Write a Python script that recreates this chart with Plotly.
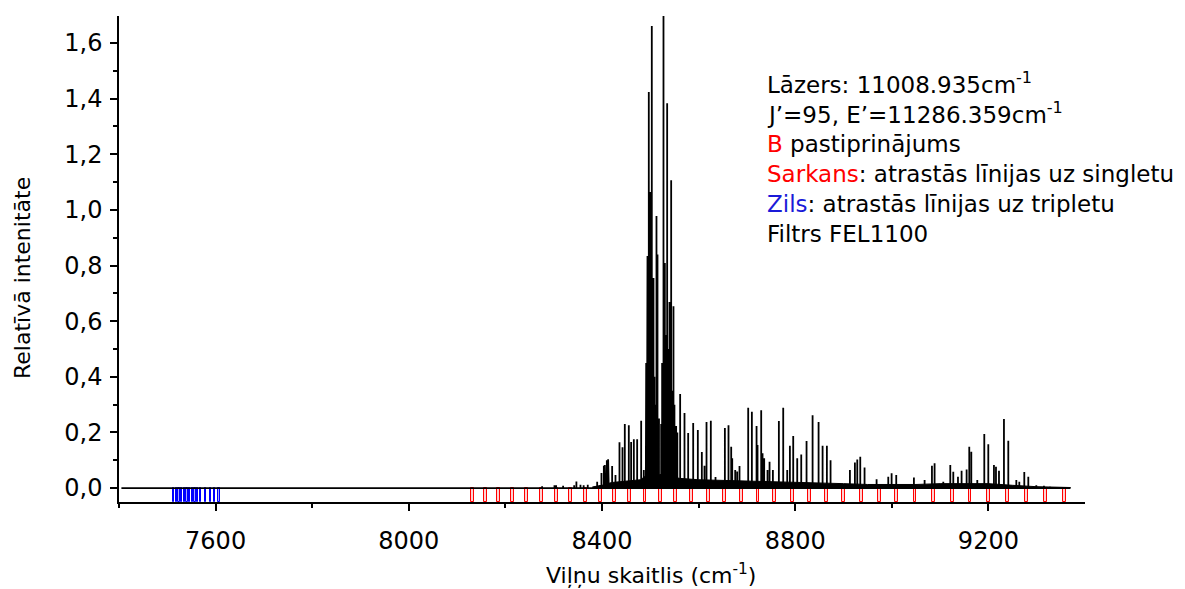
import plotly.graph_objects as go

# ---------------- data ----------------
# spectrum peaks (wavenumber cm-1, relative intensity)
peak_x = [8276, 8301.6, 8305, 8319.5, 8342.4, 8347, 8355.4, 8362, 8370.5, 8390, 8395,
          8398.9, 8403.8, 8405.8, 8407, 8410, 8412.7, 8414, 8421, 8427.9, 8436.2, 8442.4,
          8447.2, 8455.5, 8460.3, 8465.9, 8472.8, 8481.1, 8486.5, 8490.7, 8491.5, 8493,
          8494.2, 8496.9, 8498.5, 8499.7, 8501.5, 8503.1, 8505, 8506.6, 8508.5, 8510.5,
          8512.8, 8514.9, 8518, 8522.5, 8524.5, 8526, 8527.3, 8529, 8530.1, 8532, 8533.5,
          8534.9, 8537, 8539.7, 8541.5, 8543.2, 8545.5, 8548, 8550, 8553.5, 8556, 8561.8,
          8570.8, 8578.4, 8588.8, 8598.4, 8606.7, 8612.2, 8616.4, 8625.3, 8635, 8654.4,
          8661.9, 8667.5, 8669.6, 8675.8, 8679.9, 8684.7, 8702.7, 8710.3, 8720, 8722,
          8729.6, 8732.4, 8735.8, 8742.7, 8746.9, 8753.8, 8766.2, 8775.2, 8783.5, 8789,
          8795.9, 8804.2, 8812.5, 8823.5, 8836, 8848.4, 8856.7, 8865.6, 8873.2, 8913.3,
          8923.6, 8928.5, 8934.7, 8943.6, 8968.5, 8992.7, 8999.6, 9009.2, 9045.8, 9067.9,
          9083.1, 9088.6, 9106.6, 9121.1, 9127.3, 9137, 9144.5, 9154.9, 9160.4, 9164.6,
          9177, 9191.5, 9199.8, 9211.5, 9215.7, 9221.9, 9232.2, 9241.2, 9257.8, 9264,
          9274.3, 9282.6, 9299.2, 9315, 9327.5]
peak_y = [0.007, 0.010, 0.010, 0.008, 0.010, 0.024, 0.012, 0.010, 0.012, 0.023, 0.010,
          0.054, 0.080, 0.083, 0.030, 0.100, 0.104, 0.030, 0.079, 0.047, 0.165, 0.147,
          0.230, 0.226, 0.166, 0.176, 0.176, 0.242, 0.065, 0.220, 0.450, 0.600,
          0.834, 1.424, 0.550, 1.064, 0.750, 1.661, 0.500, 0.755, 0.400, 0.300,
          0.978, 0.840, 0.250, 0.230, 0.450, 0.350, 1.700, 0.600, 0.809, 0.550, 0.450,
          1.383, 0.500, 0.669, 0.450, 1.107, 0.350, 0.654, 0.300, 0.223, 0.200, 0.338,
          0.270, 0.198, 0.234, 0.209, 0.130, 0.080, 0.238, 0.242, 0.040, 0.216,
          0.226, 0.149, 0.107, 0.065, 0.060, 0.079, 0.289, 0.274, 0.223, 0.155,
          0.280, 0.125, 0.107, 0.065, 0.095, 0.065, 0.241, 0.289, 0.065, 0.152,
          0.187, 0.107, 0.121, 0.169, 0.262, 0.238, 0.152, 0.152, 0.100, 0.065,
          0.092, 0.103, 0.113, 0.074, 0.032, 0.041, 0.053, 0.047, 0.038, 0.029,
          0.080, 0.089, 0.023, 0.083, 0.059, 0.041, 0.062, 0.067, 0.149, 0.131,
          0.029, 0.194, 0.158, 0.083, 0.077, 0.062, 0.248, 0.170, 0.029, 0.023,
          0.058, 0.041, 0.010, 0.008, 0.005]

# dense noise floor of the spectrum
floor_x = [8380, 8400, 8420, 8450, 8480, 8495, 8510, 8525, 8545, 8560, 8600, 8650, 8700,
           8750, 8800, 8850, 8900, 8950, 9000, 9050, 9100, 9150, 9200, 9250, 9300, 9370]
floor_y = [0.004, 0.010, 0.020, 0.025, 0.030, 0.050, 0.045, 0.050, 0.040, 0.035, 0.030,
           0.028, 0.025, 0.024, 0.022, 0.020, 0.016, 0.013, 0.013, 0.013, 0.016, 0.016,
           0.016, 0.010, 0.005, 0.002]

spec_start = 7405
spec_end = 9370

# found lines: singlet (red) and triplet (blue)
red_lines = [8131, 8159, 8186, 8215, 8244, 8274, 8305, 8334, 8365, 8396, 8425, 8457, 8489,
             8521, 8553, 8586, 8620, 8654, 8688, 8723, 8758, 8795, 8830, 8864, 8900, 8937,
             8975, 9010, 9048, 9087, 9125, 9162, 9200, 9240, 9278, 9318, 9357]
blue_lines = [7513, 7518.6, 7524.1, 7529.6, 7535.2, 7540.8, 7546.2, 7551.8, 7557.3, 7562.8,
              7568.3, 7578.7, 7589, 7597.3, 7607]
marker_depth = 0.05

x_tick_vals = [7600, 8000, 8400, 8800, 9200]
x_tick_text = ["7600", "8000", "8400", "8800", "9200"]
x_minor_vals = [7400, 7800, 8200, 8600, 9000]
y_tick_vals = [0.0, 0.2, 0.4, 0.6, 0.8, 1.0, 1.2, 1.4, 1.6]
y_tick_text = ["0,0", "0,2", "0,4", "0,6", "0,8", "1,0", "1,2", "1,4", "1,6"]
y_minor_vals = [0.1, 0.3, 0.5, 0.7, 0.9, 1.1, 1.3, 1.5]

x_title = "Viļņu skaitlis (cm<sup>-1</sup>)"
y_title = "Relatīvā intenitāte"

info_lines = [
    "Lāzers: 11008.935cm<sup>-1</sup>",
    "J’=95, E’=11286.359cm<sup>-1</sup>",
    "<span style='color:#ff0000'>B</span> pastiprinājums",
    "<span style='color:#ff0000'>Sarkans</span>: atrastās līnijas uz singletu",
    "<span style='color:#1a1ad8'>Zils</span>: atrastās līnijas uz tripletu",
    "Filtrs FEL1100",
]

# ---------------- build figure ----------------
FONT = "DejaVu Sans"

# stick representation of the spectrum
pairs = sorted(zip(peak_x, peak_y))
sx, sy = [spec_start], [0.0]
for px_, py_ in pairs:
    sx += [px_, px_, px_]
    sy += [0.0, py_, 0.0]
sx.append(spec_end)
sy.append(0.0)

fig = go.Figure()

fig.add_trace(go.Bar(
    x=red_lines, y=[marker_depth] * len(red_lines), base=-marker_depth, width=6,
    marker=dict(color="rgba(255,0,0,0.18)", line=dict(color="#ff0000", width=1)),
    showlegend=False, hoverinfo="x"))
fig.add_trace(go.Bar(
    x=blue_lines, y=[marker_depth] * len(blue_lines), base=-marker_depth, width=3,
    marker=dict(color="rgba(0,0,255,0.35)", line=dict(color="#0000ff", width=1)),
    showlegend=False, hoverinfo="x"))

fig.add_trace(go.Scatter(
    x=floor_x, y=floor_y, mode="lines", fill="tozeroy", fillcolor="black",
    line=dict(color="black", width=1), showlegend=False, hoverinfo="skip"))

fig.add_trace(go.Scatter(
    x=sx, y=sy, mode="lines", line=dict(color="black", width=1.8),
    showlegend=False))

top_y = 0.862
step = 0.0622
for i, t in enumerate(info_lines):
    fig.add_annotation(
        x=0.6687, y=top_y - i * step, xref="paper", yref="paper",
        xanchor="left", yanchor="middle", showarrow=False, align="left",
        text=t, font=dict(family=FONT, size=23, color="black"))

# axis titles
fig.add_annotation(
    x=0.5507, y=-0.148, xref="paper", yref="paper", xanchor="center", yanchor="middle",
    showarrow=False, text=x_title, font=dict(family=FONT, size=22, color="black"))
fig.add_annotation(
    x=-0.1004, y=0.4609, xref="paper", yref="paper", xanchor="center", yanchor="middle",
    showarrow=False, textangle=-90, text=y_title,
    font=dict(family=FONT, size=22, color="black"))

axis_common = dict(
    showline=True, linecolor="black", linewidth=1.5, mirror=False, automargin=False,
    showgrid=False, zeroline=False, ticks="outside", ticklen=7, tickwidth=1.5,
    tickcolor="black", tickfont=dict(family=FONT, size=24, color="black"),
)

fig.update_layout(
    width=1177, height=581,
    margin=dict(l=111, r=100, t=8, b=87, pad=0, autoexpand=False),
    paper_bgcolor="white", plot_bgcolor="white",
    barmode="overlay", bargap=0,
    showlegend=False,
    font=dict(family=FONT, size=23, color="black"),
    xaxis=dict(
        range=[7400, 9400], tickmode="array", tickvals=x_tick_vals, ticktext=x_tick_text,
        minor=dict(tickmode="array", tickvals=x_minor_vals, ticks="outside", ticklen=4,
                   tickwidth=1.5, tickcolor="black", showgrid=False),
        ticklabelstandoff=9,
        **axis_common),
    yaxis=dict(
        range=[-0.05, 1.697], tickmode="array", tickvals=y_tick_vals, ticktext=y_tick_text,
        minor=dict(tickmode="array", tickvals=y_minor_vals, ticks="outside", ticklen=4,
                   tickwidth=1.5, tickcolor="black", showgrid=False),
        ticklabelstandoff=3,
        **axis_common),
)

fig.write_html("out.html")
